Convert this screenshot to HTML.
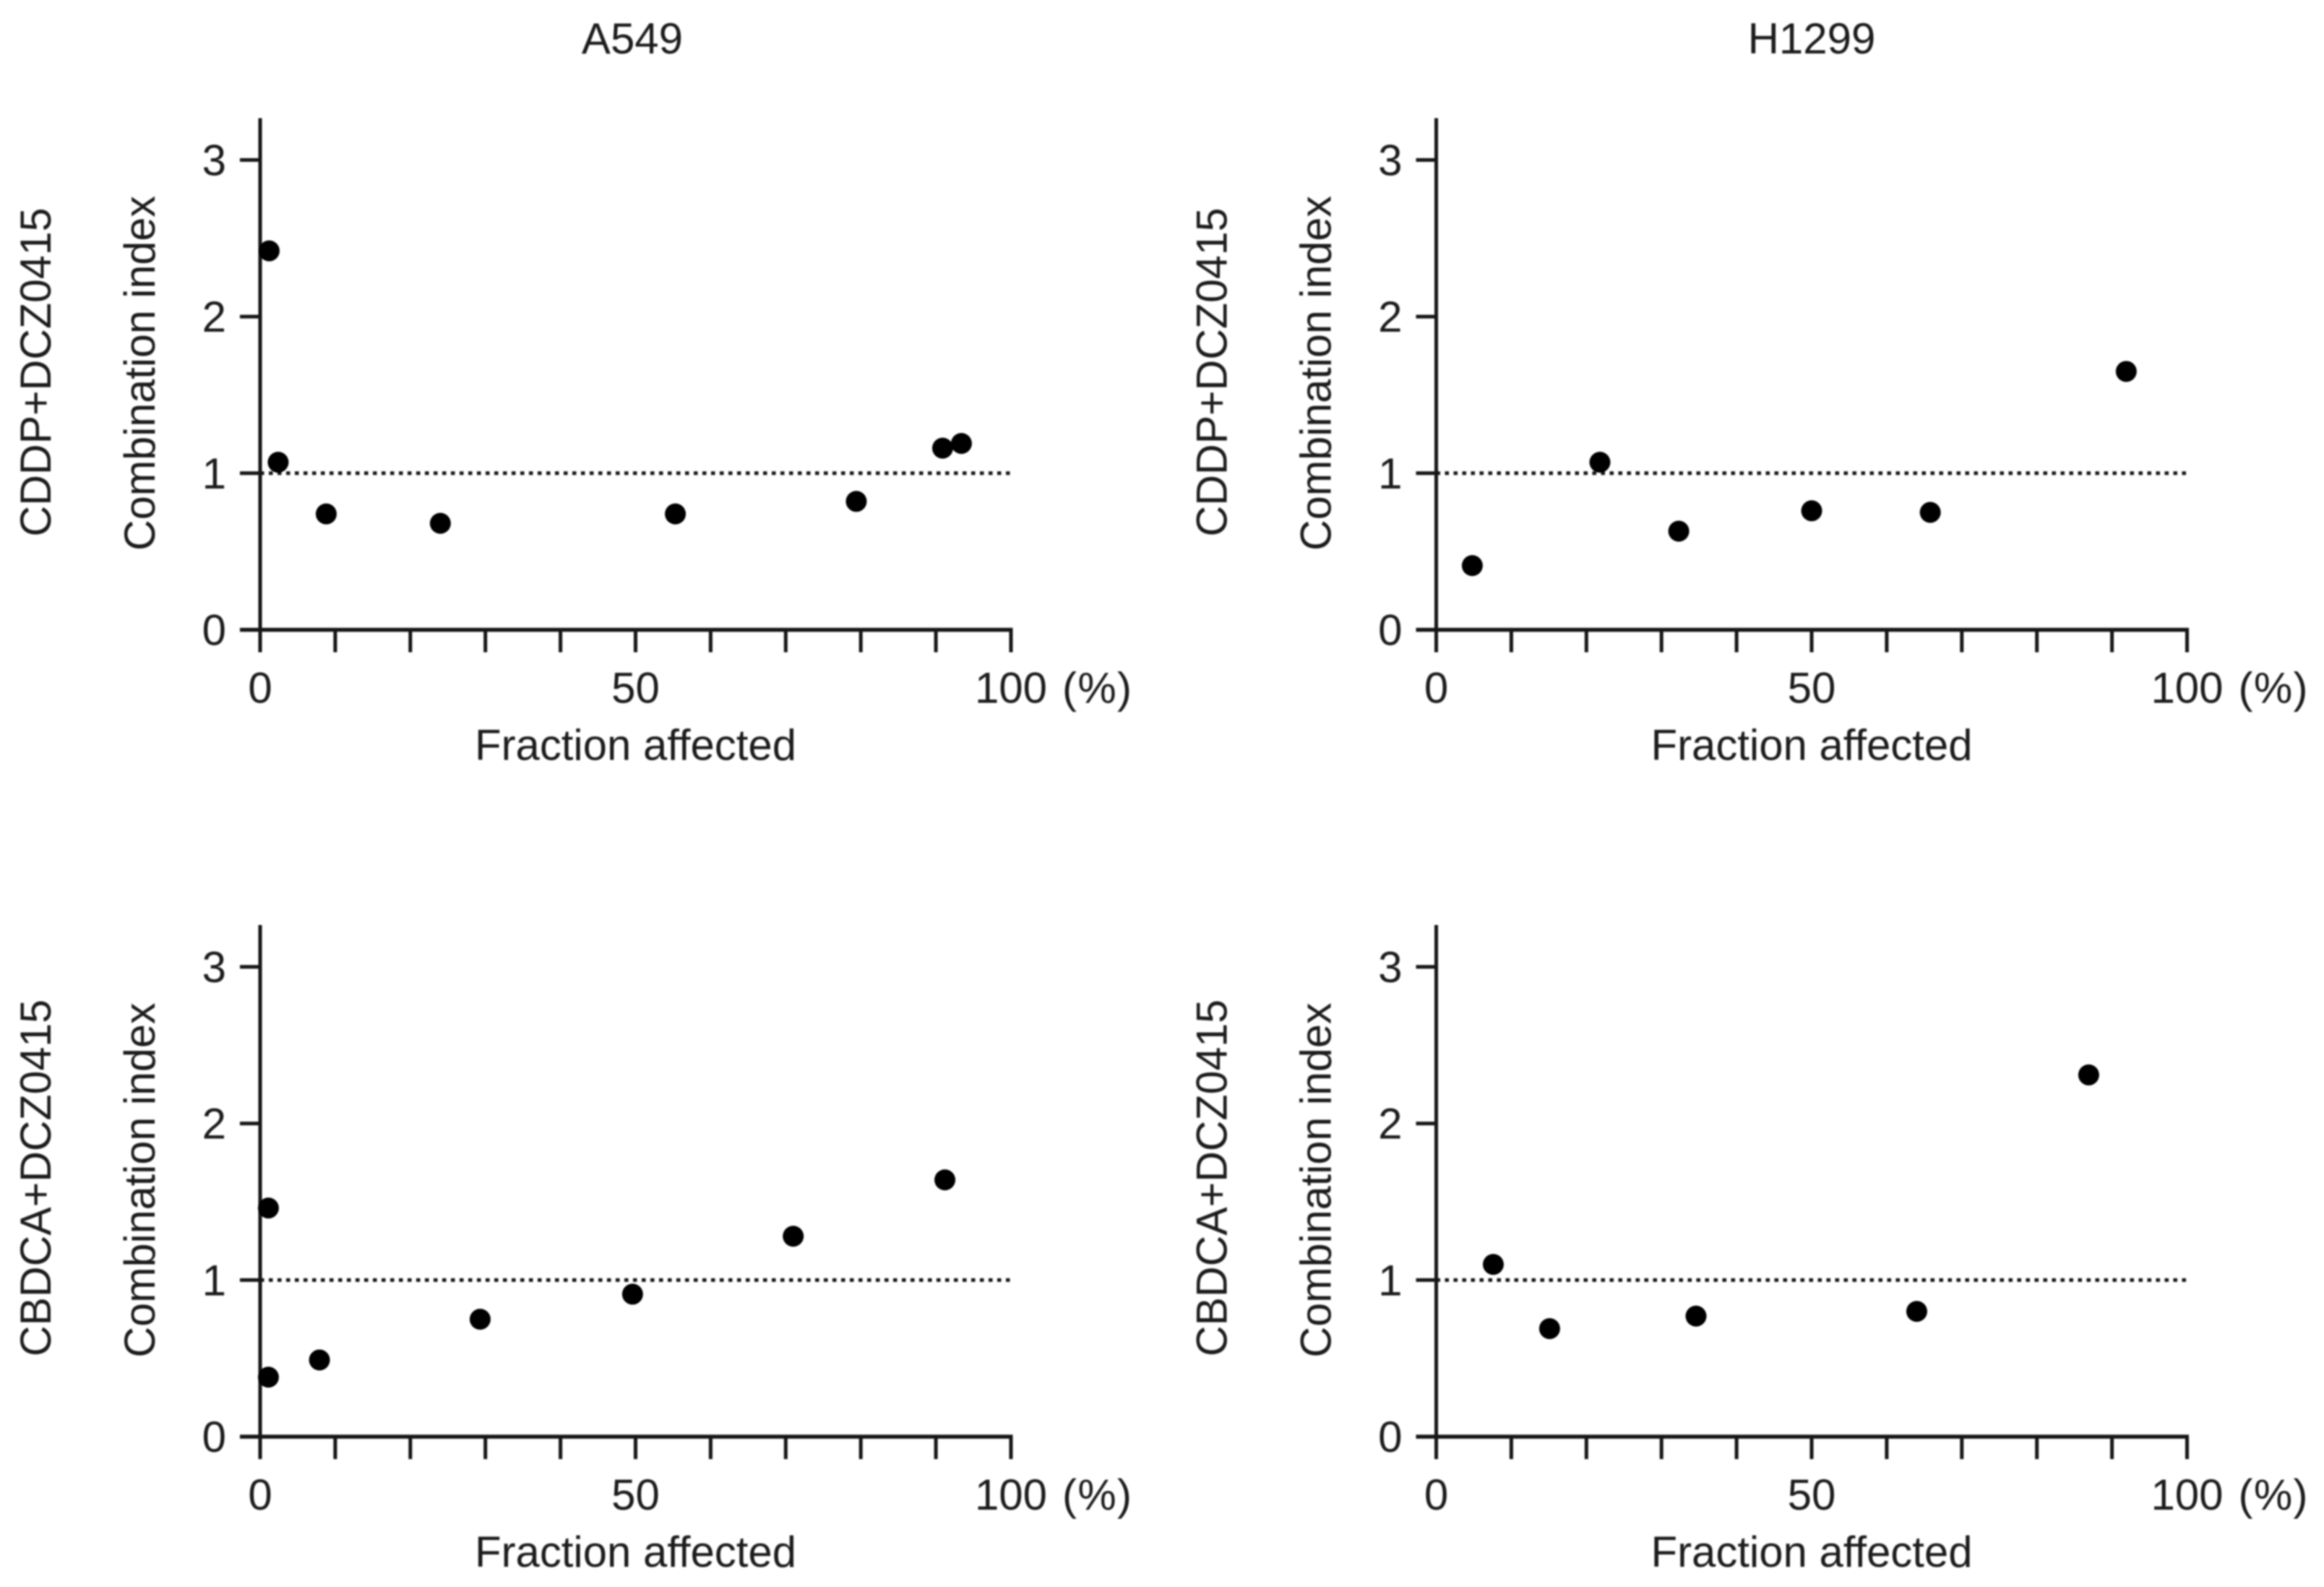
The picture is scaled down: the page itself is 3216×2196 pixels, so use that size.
<!DOCTYPE html>
<html lang="en">
<head>
<meta charset="utf-8">
<title>Combination index vs fraction affected</title>
<style>
html,body{margin:0;padding:0;background:#fff;}
svg{display:block;}
text{font-family:"Liberation Sans",Arial,sans-serif;fill:#1c1c1c;font-size:60px;}
</style>
</head>
<body>
<svg id="chart" xmlns="http://www.w3.org/2000/svg" width="3216" height="2196" viewBox="0 0 3216 2196">
<defs><filter id="soft" x="-2%" y="-2%" width="104%" height="104%"><feGaussianBlur stdDeviation="1.1"/></filter></defs>
<rect width="3216" height="2196" fill="#fff"/>
<g id="root" filter="url(#soft)"></g>
</svg>
<script>
var columnTitles = ['A549', 'H1299'];
var rowTitles = ['CDDP+DCZ0415', 'CBDCA+DCZ0415'];
var yTickValues = [0, 1, 2, 3];
var xLabeledTicks = [0, 50, 100];
var xMinorStep = 10;
var referenceValue = 1;
var yAxisTitle = 'Combination index';
var xAxisTitle = 'Fraction affected';

var a549CddpFa = [1.2, 2.4, 8.8, 24, 55.3, 79.4, 90.9, 93.4];
var a549CddpCi = [2.42, 1.07, 0.74, 0.68, 0.74, 0.82, 1.16, 1.19];
var h1299CddpFa = [4.8, 21.8, 32.3, 50, 65.8, 91.9];
var h1299CddpCi = [0.41, 1.07, 0.63, 0.76, 0.75, 1.65];
var a549CbdcaFa = [1.1, 1.1, 7.9, 29.3, 49.6, 71, 91.2];
var a549CbdcaCi = [1.46, 0.38, 0.49, 0.75, 0.91, 1.28, 1.64];
var h1299CbdcaFa = [7.6, 15.1, 34.6, 64, 86.9];
var h1299CbdcaCi = [1.1, 0.69, 0.77, 0.8, 2.31];

var NS = 'http://www.w3.org/2000/svg';
var root = document.getElementById('root');
var INK = '#141414';

function make(tag, attrs, parent) {
  var el = document.createElementNS(NS, tag);
  for (var k in attrs) el.setAttribute(k, attrs[k]);
  parent.appendChild(el);
  return el;
}
function label(parent, str, x, y, anchor, extra) {
  var attrs = {x: x, y: y, 'text-anchor': anchor};
  for (var k in (extra || {})) attrs[k] = extra[k];
  var t = make('text', attrs, parent);
  t.textContent = str;
  return t;
}

function drawPanel(slug, x0, y0, rowTitle, rowLength, rowCenter, faValues, ciValues) {
  var X_SPAN = 1039, UNIT = 216.7;
  function sx(v) { return x0 + v / 100 * X_SPAN; }
  function sy(v) { return y0 - v * UNIT; }

  var g = make('g', {}, root);
  
  

  var ref = make('line', {x1: sx(0), x2: sx(100), y1: sy(referenceValue), y2: sy(referenceValue), stroke: INK, 'stroke-width': 5, 'stroke-dasharray': '5.5 6.5'}, g);
  
  

  var yAxis = make('line', {x1: x0, x2: x0, y1: y0 - 708, y2: y0 + 31, stroke: INK, 'stroke-width': 5}, g);
  
  

  var xAxis = make('line', {x1: x0 - 28, x2: sx(100) + 2.5, y1: y0, y2: y0, stroke: INK, 'stroke-width': 5.5}, g);
  
  

  yTickValues.forEach(function (v) {
    var tick = make('line', {x1: x0 - 28, x2: x0, y1: sy(v), y2: sy(v), stroke: INK, 'stroke-width': 5}, g);
    
    
    var t = label(g, String(v), x0 - 47, sy(v) + 21, 'end');
    
    
  });

  for (var v = xMinorStep; v <= 100; v += xMinorStep) {
    var tick = make('line', {x1: sx(v), x2: sx(v), y1: y0, y2: y0 + 31, stroke: INK, 'stroke-width': 5}, g);
    
    
  }
  xLabeledTicks.forEach(function (v) {
    var t = label(g, String(v), sx(v), y0 + 101, 'middle');
    
    
  });

  var unit = label(g, '(%)', sx(100) + 71, y0 + 101, 'start', {textLength: 96, lengthAdjust: 'spacing'});
  
  

  var xt = label(g, xAxisTitle, sx(50), y0 + 180, 'middle', {textLength: 445, lengthAdjust: 'spacingAndGlyphs'});
  
  

  var yt = label(g, yAxisTitle, 0, 0, 'middle', {
    transform: 'translate(' + (x0 - 146) + ' ' + (y0 - 355) + ') rotate(-90)',
    textLength: 491, lengthAdjust: 'spacingAndGlyphs'
  });
  
  

  var rt = label(g, rowTitle, 0, 0, 'middle', {
    transform: 'translate(' + (x0 - 290) + ' ' + rowCenter + ') rotate(-90)',
    textLength: rowLength, lengthAdjust: 'spacingAndGlyphs'
  });
  
  

  faValues.forEach(function (fa, i) {
    var dot = make('circle', {cx: sx(fa), cy: sy(ciValues[i]), r: 14.5, fill: '#000'}, g);
    
    
  });
}

var colTitleA = label(root, columnTitles[0], 875, 74, 'middle');


var colTitleH = label(root, columnTitles[1], 2507, 74, 'middle');



drawPanel('a549-cddp', 360, 871.5, rowTitles[0], 455, 515, a549CddpFa, a549CddpCi);
drawPanel('h1299-cddp', 1987.5, 871.5, rowTitles[0], 455, 515, h1299CddpFa, h1299CddpCi);
drawPanel('a549-cbdca', 360, 1988, rowTitles[1], 494, 1630, a549CbdcaFa, a549CbdcaCi);
drawPanel('h1299-cbdca', 1987.5, 1988, rowTitles[1], 494, 1630, h1299CbdcaFa, h1299CbdcaCi);
</script>
</body>
</html>
